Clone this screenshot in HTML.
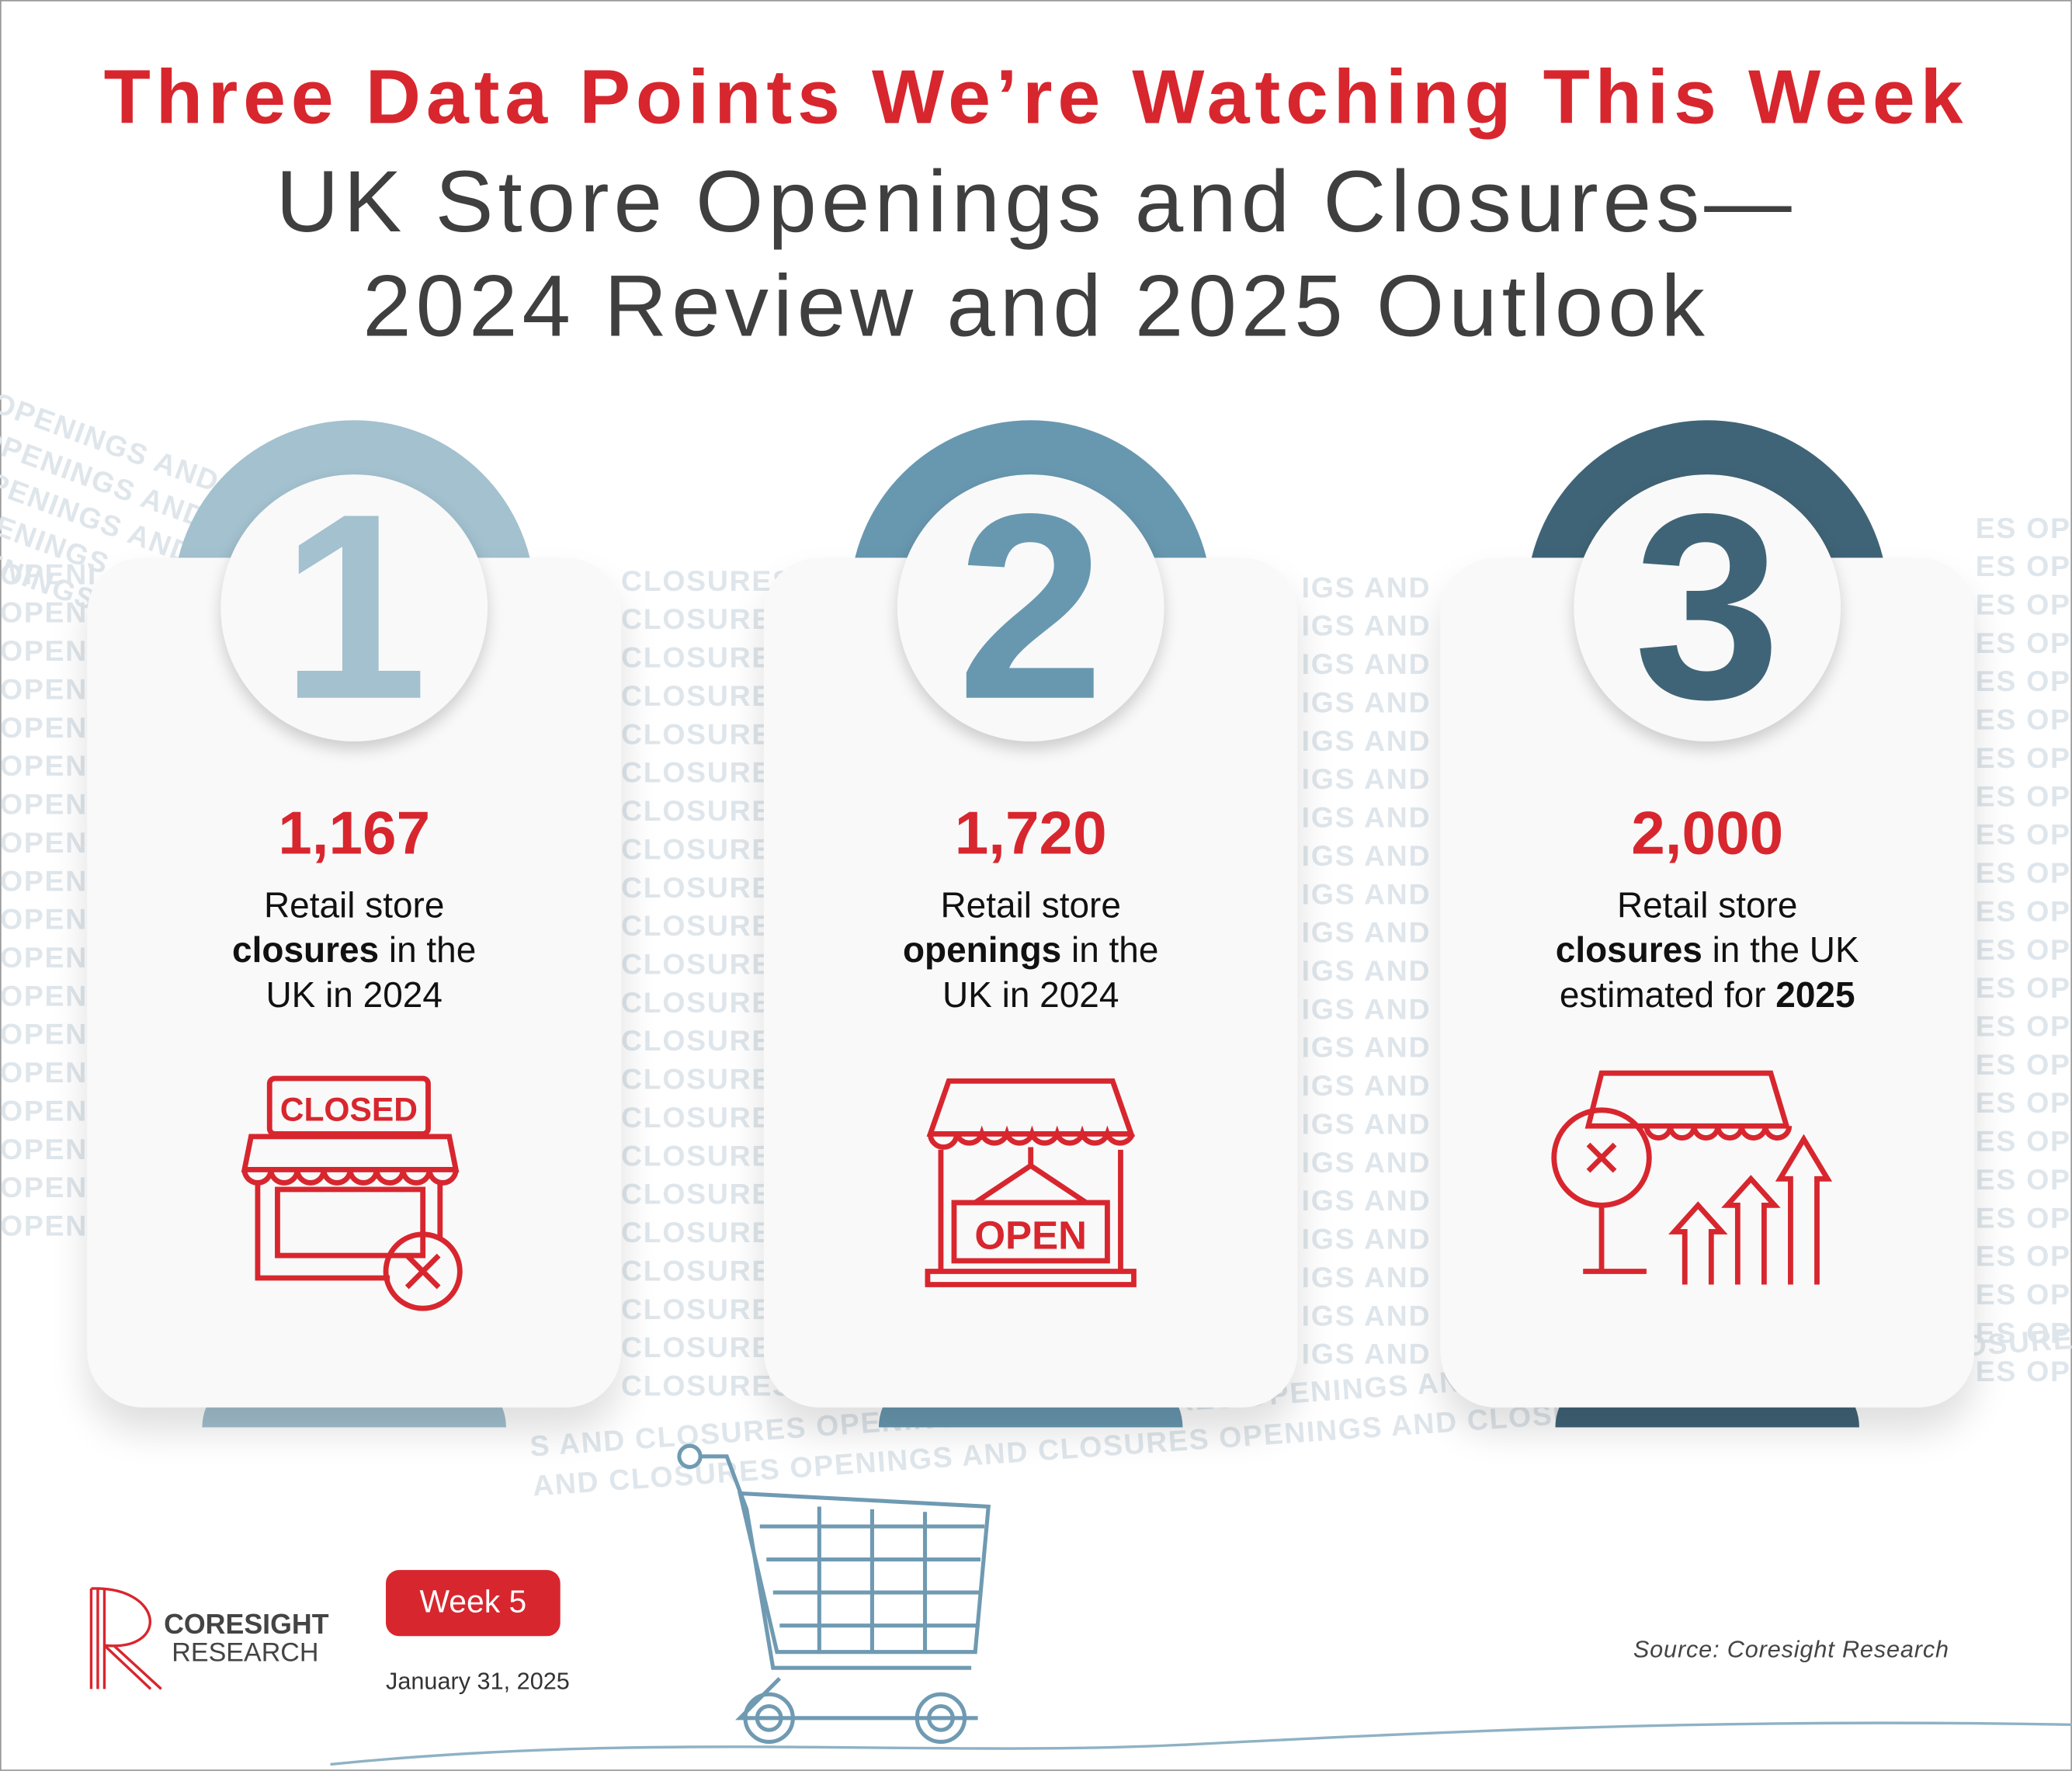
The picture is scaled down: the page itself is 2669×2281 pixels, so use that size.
<!DOCTYPE html>
<html><head><meta charset="utf-8"><style>
html,body{margin:0;padding:0;background:#fff;}
body{width:2669px;height:2281px;overflow:hidden;position:relative;font-family:"Liberation Sans",sans-serif;}
#w{position:absolute;left:0;top:0;width:1568px;height:1340px;transform:scale(1.70217);transform-origin:0 0;}
.abs{position:absolute;}
.border{left:0;top:0;width:1566px;height:1338px;border:1px solid #999;}
.title{left:0;width:1568px;text-align:center;}
.wm{color:#dfe6eb;font-weight:bold;font-size:22px;white-space:nowrap;letter-spacing:1px;}
.card{width:404px;height:643px;top:422px;background:#f9f9f9;border-radius:42px;box-shadow:0 18px 28px rgba(0,0,0,0.13);}
.arc{width:274px;height:274px;border-radius:50%;top:318px;}
.circ{width:202px;height:202px;border-radius:50%;background:#f9f9f9;top:359px;box-shadow:0 6px 12px rgba(0,0,0,0.18);text-align:center;font-weight:bold;font-size:200px;line-height:202px;}
.tab{width:230px;height:40px;top:1040px;border-radius:40px 40px 0 0;}
.num{width:404px;text-align:center;top:603px;color:#d8262e;font-weight:bold;font-size:46px;}
.txt{width:404px;text-align:center;top:668px;color:#111;font-size:27px;line-height:34px;}
</style></head><body><div id="w">
<div class="abs border"></div>
<!-- watermark -->
<div class="abs wm" style="left:0;top:290px;transform:rotate(20deg);transform-origin:0 0;line-height:29px;">OPENINGS AND CLOSURES<br>OPENINGS AND CLOSURES<br>OPENINGS AND CLOSURES<br>OPENINGS AND CLOSURES<br>OPENINGS AND CLOSURES</div>
<div class="abs wm" style="left:0;top:420px;line-height:29px;">OPENI<br>OPENI<br>OPENI<br>OPENI<br>OPENI<br>OPENI<br>OPENI<br>OPENI<br>OPENI<br>OPENI<br>OPENI<br>OPENI<br>OPENI<br>OPENI<br>OPENI<br>OPENI<br>OPENI<br>OPENI</div>
<div class="abs wm" style="left:470px;top:425px;line-height:29px;">CLOSURES<br>CLOSURES<br>CLOSURES<br>CLOSURES<br>CLOSURES<br>CLOSURES<br>CLOSURES<br>CLOSURES<br>CLOSURES<br>CLOSURES<br>CLOSURES<br>CLOSURES<br>CLOSURES<br>CLOSURES<br>CLOSURES<br>CLOSURES<br>CLOSURES<br>CLOSURES<br>CLOSURES<br>CLOSURES<br>CLOSURES<br>CLOSURES</div>
<div class="abs wm" style="left:985px;top:430px;line-height:29px;">IGS AND<br>IGS AND<br>IGS AND<br>IGS AND<br>IGS AND<br>IGS AND<br>IGS AND<br>IGS AND<br>IGS AND<br>IGS AND<br>IGS AND<br>IGS AND<br>IGS AND<br>IGS AND<br>IGS AND<br>IGS AND<br>IGS AND<br>IGS AND<br>IGS AND<br>IGS AND<br>IGS AND</div>
<div class="abs wm" style="left:1495px;top:385px;line-height:29px;">ES OPE<br>ES OPE<br>ES OPE<br>ES OPE<br>ES OPE<br>ES OPE<br>ES OPE<br>ES OPE<br>ES OPE<br>ES OPE<br>ES OPE<br>ES OPE<br>ES OPE<br>ES OPE<br>ES OPE<br>ES OPE<br>ES OPE<br>ES OPE<br>ES OPE<br>ES OPE<br>ES OPE<br>ES OPE<br>ES OPE</div>
<div class="abs wm" style="left:400px;top:1080px;transform:rotate(-4deg);transform-origin:0 0;line-height:30px;">S AND CLOSURES OPENINGS AND CLOSURES OPENINGS AND CLOSURES OPENINGS AND CLOSURES<br>AND CLOSURES OPENINGS AND CLOSURES OPENINGS AND CLOSURES</div>

<div class="abs title" style="top:40px;color:#d8262e;font-weight:bold;font-size:58px;letter-spacing:4px;">Three Data Points We’re Watching This Week</div>
<div class="abs title" style="top:113px;color:#3f3f3f;font-size:66px;line-height:79px;letter-spacing:3.5px;">UK Store Openings and Closures—<br>2024 Review and 2025 Outlook</div>

<div class="abs arc" style="left:131px;background:#a3c1cf;"></div>
<div class="abs arc" style="left:643px;background:#6898b0;"></div>
<div class="abs arc" style="left:1155px;background:#406477;"></div>
<div class="abs tab" style="left:153px;background:#a3c1cf;"></div>
<div class="abs tab" style="left:665px;background:#6898b0;"></div>
<div class="abs tab" style="left:1177px;background:#406477;"></div>
<div class="abs card" style="left:66px;"></div>
<div class="abs card" style="left:578px;"></div>
<div class="abs card" style="left:1090px;"></div>
<div class="abs circ" style="left:167px;color:#a3c1cf;">1</div>
<div class="abs circ" style="left:679px;color:#6898b0;">2</div>
<div class="abs circ" style="left:1191px;color:#406477;">3</div>

<div class="abs num" style="left:66px;">1,167</div>
<div class="abs num" style="left:578px;">1,720</div>
<div class="abs num" style="left:1090px;">2,000</div>
<div class="abs txt" style="left:66px;">Retail store<br><b>closures</b> in the<br>UK in 2024</div>
<div class="abs txt" style="left:578px;">Retail store<br><b>openings</b> in the<br>UK in 2024</div>
<div class="abs txt" style="left:1090px;">Retail store<br><b>closures</b> in the UK<br>estimated for <b>2025</b></div>

<svg class="abs" style="left:0;top:0" width="1568" height="1340" fill="none" stroke="#d8262e" stroke-width="4">
<!-- icon 1 -->
<rect x="204" y="816" width="120" height="42" rx="4"/>
<text x="264" y="848" fill="#d8262e" stroke="none" font-family="Liberation Sans" font-weight="bold" font-size="25" text-anchor="middle">CLOSED</text>
<path d="M190 860 h150 l5 25 h-160 z"/>
<path d="M185 885 a10 10 0 0 0 20 0 a10 10 0 0 0 20 0 a10 10 0 0 0 20 0 a10 10 0 0 0 20 0 a10 10 0 0 0 20 0 a10 10 0 0 0 20 0 a10 10 0 0 0 20 0 a10 10 0 0 0 20 0"/>
<path d="M195 895 v72 h100 M333 895 v42"/>
<rect x="210" y="900" width="110" height="50"/>
<circle cx="320" cy="962" r="28"/>
<path d="M308 950 l24 24 M332 950 l-24 24"/>
<!-- icon 2 -->
<path d="M718 818 h124 l14 40 h-152 z"/>
<path d="M704 858 a10 10 0 0 0 20 0 a10 10 0 0 0 19 0 a10 10 0 0 0 19 0 a10 10 0 0 0 19 0 a10 10 0 0 0 19 0 a10 10 0 0 0 19 0 a10 10 0 0 0 19 0 a10 10 0 0 0 19 0"/>
<path d="M712 870 v90 M848 870 v90 M702 962 h156 v10 h-156 z"/>
<path d="M780 868 v14 M738 910 l42 -28 42 28"/>
<rect x="722" y="910" width="116" height="44"/>
<text x="780" y="945" fill="#d8262e" stroke="none" font-family="Liberation Sans" font-weight="bold" font-size="30" text-anchor="middle">OPEN</text>
<!-- icon 3 -->
<path d="M1212 812 h128 l12 40 h-150 z"/>
<path d="M1246 852 a9 9 0 0 0 18 0 a9 9 0 0 0 18 0 a9 9 0 0 0 18 0 a9 9 0 0 0 18 0 a9 9 0 0 0 18 0 a9 9 0 0 0 18 0"/>
<circle cx="1212" cy="876" r="36"/>
<path d="M1202 866 l20 20 M1222 866 l-20 20"/>
<path d="M1212 912 v50 M1198 962 h48"/>
<path d="M1275 972 v-40 l-8 0 l18 -20 18 20 h-8 v40"/>
<path d="M1315 972 v-60 l-8 0 l18 -20 18 20 h-8 v60"/>
<path d="M1355 972 v-80 l-8 0 l18 -30 18 30 h-8 v80"/>
</svg>

<!-- cart -->
<svg class="abs" style="left:0;top:1080px" width="1568" height="260" fill="none" stroke="#6f9ab2" stroke-width="3">
<path d="M250 255 C 500 230, 700 250, 900 240 S 1300 220, 1568 225" stroke="#8fb2c4" stroke-width="2"/>
<circle cx="522" cy="22" r="8"/>
<path d="M530 22 h20 l15 40 l20 120 h150"/>
<path d="M560 50 l188 10 l-10 110 h-150 z"/>
<path d="M575 75 h170 M580 100 h162 M585 125 h158 M590 150 h150 M620 60 v110 M660 62 v108 M700 64 v106"/>
<path d="M590 190 l-30 30 h180"/>
<circle cx="582" cy="220" r="18"/><circle cx="582" cy="220" r="9"/>
<circle cx="712" cy="220" r="18"/><circle cx="712" cy="220" r="9"/>
</svg>

<!-- logo -->
<svg class="abs" style="left:64px;top:1200px" width="80" height="80" fill="none" stroke="#d8262e" stroke-width="2">
<path d="M5 78 V2 M10 78 V2 M15 78 V2 M5 2 C 60 0, 65 50, 15 45 M15 45 L50 78 M22 45 L58 78"/>
</svg>
<div class="abs" style="left:124px;top:1218px;font-weight:bold;font-size:21px;color:#444;">CORESIGHT</div>
<div class="abs" style="left:130px;top:1240px;font-size:20px;color:#444;">RESEARCH</div>
<div class="abs" style="left:292px;top:1188px;width:132px;height:50px;background:#d8262e;border-radius:10px;color:#fff;font-size:24px;line-height:50px;text-align:center;">Week 5</div>
<div class="abs" style="left:292px;top:1262px;font-size:18px;color:#333;">January 31, 2025</div>
<div class="abs" style="left:1236px;top:1238px;font-size:18px;color:#444;font-style:italic;letter-spacing:0.5px;">Source: Coresight Research</div>
</div></body></html>
